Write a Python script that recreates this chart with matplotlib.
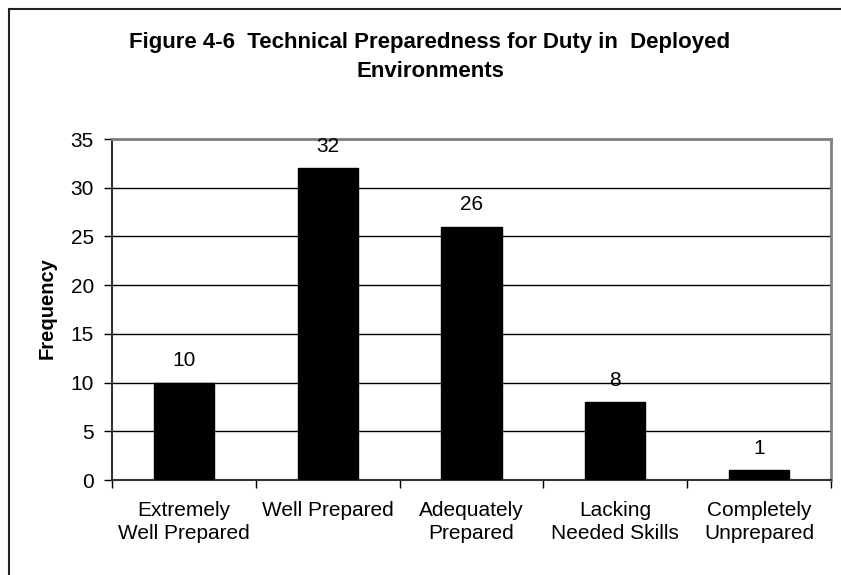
import matplotlib
matplotlib.use("Agg")
import matplotlib.pyplot as plt
from matplotlib.lines import Line2D

categories = ["Extremely\nWell Prepared", "Well Prepared", "Adequately\nPrepared",
              "Lacking\nNeeded Skills", "Completely\nUnprepared"]
values = [10, 32, 26, 8, 1]
yticks = [0, 5, 10, 15, 20, 25, 30, 35]
title_lines = ["Figure 4-6  Technical Preparedness for Duty in  Deployed", "Environments"]
ylabel = "Frequency"

plt.rcParams['font.family'] = ['Liberation Sans', 'DejaVu Sans']

W, H = 841, 575
fig = plt.figure(figsize=(W / 100, H / 100), dpi=100)
fig.patch.set_facecolor("white")

# figure border (left and top visible)
fig.add_artist(Line2D([9 / W, 9 / W], [0, 1 - 9 / H], transform=fig.transFigure,
                      color="#222222", lw=1.5))
fig.add_artist(Line2D([9 / W, 1], [1 - 9 / H, 1 - 9 / H], transform=fig.transFigure,
                      color="#222222", lw=1.5))

left, right, top, bottom = 112, 831, 139, 480
ax = fig.add_axes([left / W, (H - bottom) / H, (right - left) / W, (bottom - top) / H])

FS = 15
x = list(range(len(categories)))
bars = ax.bar(x, values, width=0.42, color="black", edgecolor="black", zorder=3)

ax.set_xlim(-0.5, len(categories) - 0.5)
ax.set_ylim(0, 35)
ax.set_yticks(yticks)
ax.set_yticklabels([str(v) for v in yticks], fontsize=FS)
ax.set_xticks([i - 0.5 for i in range(len(categories) + 1)], minor=False)
ax.set_xticklabels([])
ax.set_xticks(x, minor=True)
ax.set_xticklabels(categories, minor=True, fontsize=FS, linespacing=1.3)
ax.tick_params(axis="x", which="minor", length=0, pad=15)
ax.tick_params(axis="x", which="major", length=6, width=1, direction="out", color="black")
ax.tick_params(axis="y", length=6, width=1, direction="out", color="black", pad=7)

ax.grid(axis="y", color="black", lw=1, zorder=0)
for s in ["top", "right"]:
    ax.spines[s].set_color("#808080")
    ax.spines[s].set_linewidth(2)
ax.spines["left"].set_color("#333333")
ax.spines["left"].set_linewidth(1.5)
ax.spines["bottom"].set_color("#333333")
ax.spines["bottom"].set_linewidth(1.5)

for b, v in zip(bars, values):
    ax.annotate(str(v), (b.get_x() + b.get_width() / 2, v), xytext=(0, 9),
                textcoords="offset points", ha="center", va="bottom", fontsize=FS)

fig.text(47 / W, 1 - 308 / H, ylabel, rotation=90, ha="center", va="center",
         fontsize=14.5, fontweight="bold")

for line, yb in zip(title_lines, [48, 77]):
    fig.text(430 / W, 1 - yb / H, line, ha="center", va="baseline", fontsize=16,
             fontweight="bold")

fig.savefig("out.png", dpi=100, facecolor="white")
